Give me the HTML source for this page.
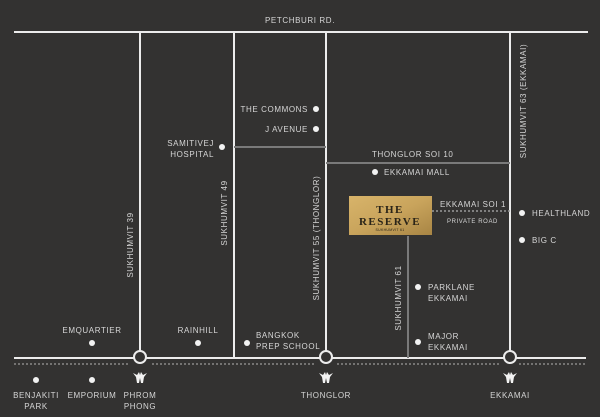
<!DOCTYPE html>
<html><head><style>
html,body{margin:0;padding:0;background:#333231;}
svg{display:block}
text{font-family:"Liberation Sans",sans-serif;font-size:8px;fill:#d6d6d6;letter-spacing:0.6px}
</style></head><body>
<svg width="600" height="417" viewBox="0 0 600 417">
<rect width="600" height="417" fill="#333231"/>
<defs><linearGradient id="g" x1="0" y1="0" x2="1" y2="1"><stop offset="0" stop-color="#d8b46a"/><stop offset="0.5" stop-color="#c9a45c"/><stop offset="1" stop-color="#a88544"/></linearGradient>
<g id="ic" fill="#f2f2f2"><path d="M-7,-5 L-3,-3 L-1,-6 L0,-3 L1,-6 L3,-3 L7,-5 L4,-1 L3,5 L1,5 L0,0 L-1,5 L-3,5 L-4,-1 Z"/></g></defs>
<g stroke="#ececec" stroke-width="2" fill="none">
<line x1="14" y1="32" x2="588" y2="32"/>
<line x1="140" y1="32" x2="140" y2="358"/>
<line x1="234" y1="32" x2="234" y2="358"/>
<line x1="326" y1="32" x2="326" y2="358"/>
<line x1="510" y1="32" x2="510" y2="358"/>
<line x1="14" y1="358" x2="586" y2="358"/>
</g>
<g stroke="#7a7a7a" stroke-width="2">
<line x1="234" y1="147" x2="326" y2="147"/>
<line x1="326" y1="163" x2="510" y2="163"/>
<line x1="408" y1="236" x2="408" y2="358"/>
</g>
<g stroke="#9a9a9a" stroke-width="1.3" stroke-dasharray="2,2">
<line x1="14" y1="364" x2="130" y2="364"/>
<line x1="152" y1="364" x2="314" y2="364"/>
<line x1="337" y1="364" x2="499" y2="364"/>
<line x1="519" y1="364" x2="586" y2="364"/>
<line x1="432" y1="211" x2="510" y2="211" stroke-width="1.6"/>
</g>
<g fill="#333231" stroke="#ececec" stroke-width="2">
<circle cx="140" cy="357" r="6"/><circle cx="326" cy="357" r="6"/><circle cx="510" cy="357" r="6"/>
</g>
<g fill="#f2f2f2">
<circle cx="316" cy="109" r="3"/><circle cx="316" cy="129" r="3"/><circle cx="222" cy="147" r="3"/>
<circle cx="375" cy="172" r="3"/><circle cx="522" cy="213" r="3"/><circle cx="522" cy="240" r="3"/>
<circle cx="418" cy="287" r="3"/><circle cx="418" cy="342" r="3"/>
<circle cx="92" cy="343" r="3"/><circle cx="198" cy="343" r="3"/><circle cx="247" cy="343" r="3"/>
<circle cx="36" cy="380" r="3"/><circle cx="92" cy="380" r="3"/>
</g>
<use href="#ic" x="140" y="378"/><use href="#ic" x="326" y="378"/><use href="#ic" x="510" y="378"/>
<rect x="349" y="196" width="83" height="39" fill="url(#g)"/>
<text x="390" y="213" text-anchor="middle" style="font-family:'Liberation Serif',serif;font-size:11px;font-weight:bold;fill:#2a2418;letter-spacing:1.5px">THE</text>
<text x="390" y="225" text-anchor="middle" style="font-family:'Liberation Serif',serif;font-size:11px;font-weight:bold;fill:#2a2418;letter-spacing:1.5px">RESERVE</text>
<text x="390" y="231" text-anchor="middle" style="font-size:3.5px;fill:#2a2418;letter-spacing:0.3px">SUKHUMVIT 61</text>
<text x="300" y="23" text-anchor="middle">PETCHBURI RD.</text>
<text x="308" y="112" text-anchor="end">THE COMMONS</text>
<text x="308" y="132" text-anchor="end">J AVENUE</text>
<text x="214" y="146" text-anchor="end">SAMITIVEJ</text>
<text x="214" y="157" text-anchor="end">HOSPITAL</text>
<text x="372" y="157">THONGLOR SOI 10</text>
<text x="384" y="175">EKKAMAI MALL</text>
<text x="440" y="207">EKKAMAI SOI 1</text>
<text x="447" y="223" style="font-size:6px">PRIVATE ROAD</text>
<text x="532" y="216">HEALTHLAND</text>
<text x="532" y="243">BIG C</text>
<text x="428" y="290">PARKLANE</text>
<text x="428" y="301">EKKAMAI</text>
<text x="428" y="339">MAJOR</text>
<text x="428" y="350">EKKAMAI</text>
<text x="92" y="333" text-anchor="middle">EMQUARTIER</text>
<text x="198" y="333" text-anchor="middle">RAINHILL</text>
<text x="256" y="338">BANGKOK</text>
<text x="256" y="349">PREP SCHOOL</text>
<text x="36" y="398" text-anchor="middle">BENJAKITI</text>
<text x="36" y="409" text-anchor="middle">PARK</text>
<text x="92" y="398" text-anchor="middle">EMPORIUM</text>
<text x="140" y="398" text-anchor="middle">PHROM</text>
<text x="140" y="409" text-anchor="middle">PHONG</text>
<text x="326" y="398" text-anchor="middle">THONGLOR</text>
<text x="510" y="398" text-anchor="middle">EKKAMAI</text>
<text transform="translate(133,245) rotate(-90)" text-anchor="middle">SUKHUMVIT 39</text>
<text transform="translate(227,213) rotate(-90)" text-anchor="middle">SUKHUMVIT 49</text>
<text transform="translate(319,238) rotate(-90)" text-anchor="middle">SUKHUMVIT 55 (THONGLOR)</text>
<text transform="translate(401,298) rotate(-90)" text-anchor="middle">SUKHUMVIT 61</text>
<text transform="translate(526,101) rotate(-90)" text-anchor="middle">SUKHUMVIT 63 (EKKAMAI)</text>
</svg>
</body></html>
